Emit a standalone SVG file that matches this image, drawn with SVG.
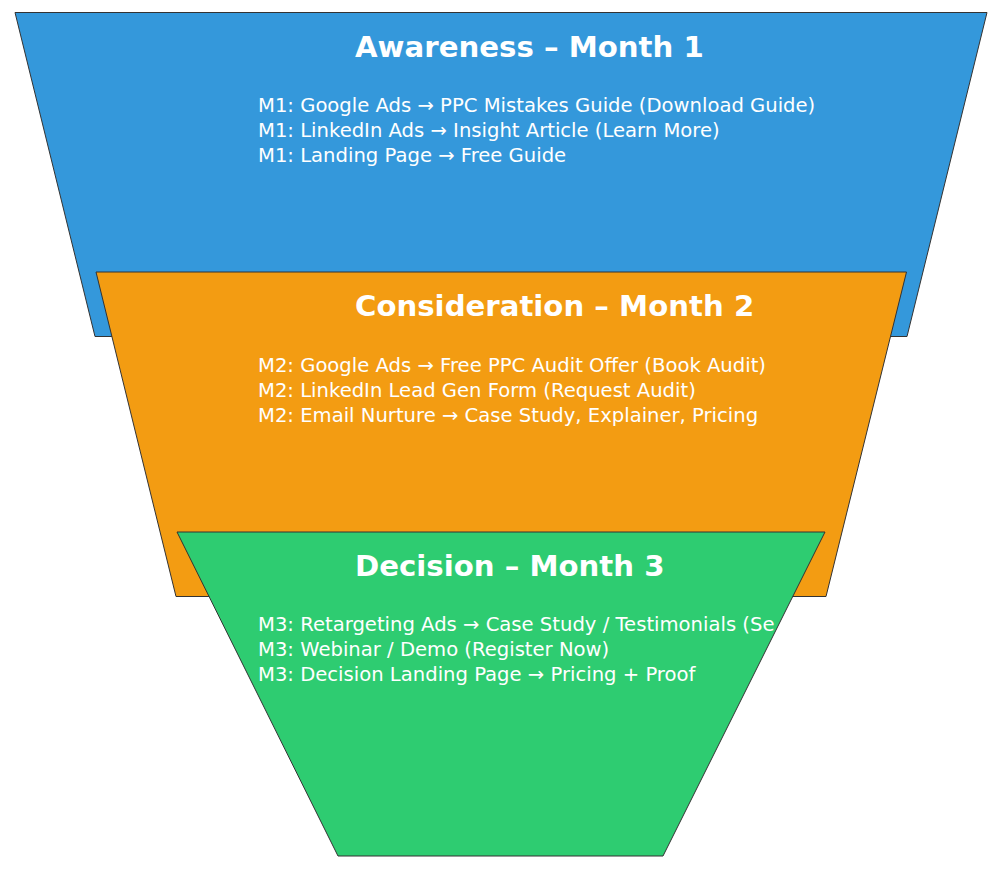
<svg xmlns="http://www.w3.org/2000/svg" width="1000" height="869" viewBox="0 0 1000 869">
<style>
.stage{stroke:#333333;stroke-width:1}
.title{font-family:"DejaVu Sans",sans-serif;font-weight:bold;font-size:29.2px;fill:#ffffff}
.body{font-family:"DejaVu Sans",sans-serif;font-size:19.6px;fill:#ffffff}
</style>
<defs>
<clipPath id="clipGreen"><polygon points="177,532 825,532 663,856 338,856"/></clipPath>
</defs>
<rect width="1000" height="869" fill="#ffffff"/>
<g id="awareness">
<polygon class="stage" fill="#3498db" points="15,12.5 987,12.5 907,336.5 95,336.5"/>
<text class="title" x="355" y="57">Awareness – Month 1</text>
<text class="body" x="258" y="112">M1: Google Ads → PPC Mistakes Guide (Download Guide)</text>
<text class="body" x="258" y="137">M1: LinkedIn Ads → Insight Article (Learn More)</text>
<text class="body" x="258" y="162">M1: Landing Page → Free Guide</text>
</g>
<g id="consideration">
<polygon class="stage" fill="#f39c12" points="96,272 906.5,272 826,596.5 176,596.5"/>
<text class="title" x="355" y="316">Consideration – Month 2</text>
<text class="body" x="258" y="372">M2: Google Ads → Free PPC Audit Offer (Book Audit)</text>
<text class="body" x="258" y="397">M2: LinkedIn Lead Gen Form (Request Audit)</text>
<text class="body" x="258" y="422">M2: Email Nurture → Case Study, Explainer, Pricing</text>
</g>
<g id="decision">
<polygon class="stage" fill="#2ecc71" points="177,532 825,532 663,856 338,856"/>
<text class="title" x="355" y="576">Decision – Month 3</text>
<g clip-path="url(#clipGreen)">
<text class="body" x="258" y="631">M3: Retargeting Ads → Case Study / Testimonials (Se</text>
</g>
<text class="body" x="258" y="656">M3: Webinar / Demo (Register Now)</text>
<text class="body" x="258" y="681">M3: Decision Landing Page → Pricing + Proof</text>
</g>
<g id="connectors"></g>
</svg>
